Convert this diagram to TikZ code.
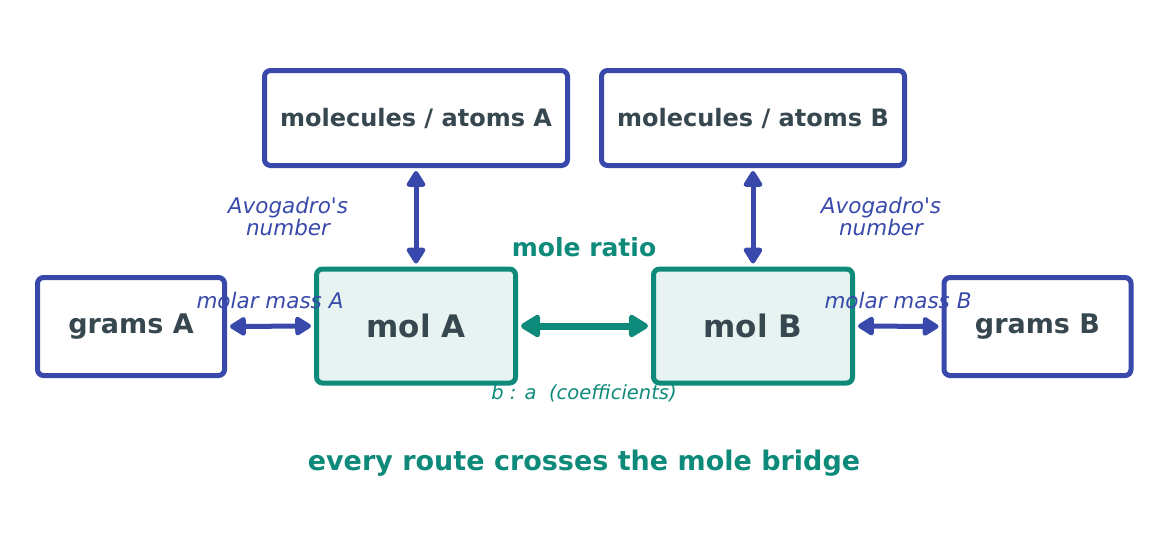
\documentclass[tikz,border=0pt]{standalone}
\usepackage{fontspec}
\setmainfont{DejaVu Sans}
\usetikzlibrary{arrows.meta}
\definecolor{indigo}{HTML}{3949AB}
\definecolor{bridgeteal}{HTML}{0E8A7A}
\definecolor{slate}{HTML}{37474F}
\definecolor{molfill}{HTML}{E7F3F1}
\begin{document}
\begin{tikzpicture}[x=1pt,y=-1pt,
    unitbox/.style={draw=indigo,line width=5pt,rounded corners=6pt,fill=white,inner sep=0pt,text=slate},
    molbox/.style={draw=bridgeteal,line width=5pt,rounded corners=6pt,fill=molfill,inner sep=0pt,text=slate,
        minimum width=199pt,minimum height=114pt,font=\fontsize{31}{36}\selectfont\bfseries},
    convarrow/.style={{Triangle[round,length=18pt,width=21pt]}-{Triangle[round,length=18pt,width=21pt]},
        draw=indigo,line width=5pt,shorten <=3pt,shorten >=3pt},
    ratioarrow/.style={{Triangle[round,length=22pt,width=25pt]}-{Triangle[round,length=22pt,width=25pt]},
        draw=bridgeteal,line width=7pt,shorten <=3pt,shorten >=3pt},
    convlabel/.style={text=indigo,font=\fontsize{21.5}{22}\selectfont\itshape,align=center}]
    \useasboundingbox (0,0) rectangle (1169,538);
    \node[unitbox,minimum width=303pt,minimum height=95pt,font=\fontsize{24}{28}\selectfont\bfseries] (partA) at (416,118) {molecules / atoms A};
    \node[unitbox,minimum width=303pt,minimum height=95pt,font=\fontsize{24}{28}\selectfont\bfseries] (partB) at (753,118) {molecules / atoms B};
    \node[unitbox,minimum width=187pt,minimum height=98pt,font=\fontsize{27}{32}\selectfont\bfseries] (gramsA) at (131,326.5) {grams A};
    \node[unitbox,minimum width=187pt,minimum height=98pt,font=\fontsize{27}{32}\selectfont\bfseries] (gramsB) at (1037.5,326.5) {grams B};
    \node[molbox] (molA) at (416,326) {mol A};
    \node[molbox] (molB) at (753,326) {mol B};
    \draw[convarrow] (partA.south) -- (molA.north);
    \draw[convarrow] (partB.south) -- (molB.north);
    \draw[convarrow] (gramsA.east) -- (molA.west);
    \draw[convarrow] (molB.east) -- (gramsB.west);
    \draw[ratioarrow] (molA.east) -- (molB.west);
    \node[convlabel] (avoA) at (288,216) {Avogadro\textquotesingle s\\number};
    \node[convlabel] (avoB) at (881,216) {Avogadro\textquotesingle s\\number};
    \node[convlabel] (massA) at (270,300) {molar mass A};
    \node[convlabel] (massB) at (898,300) {molar mass B};
    \node[text=bridgeteal,font=\fontsize{25}{30}\selectfont\bfseries] (ratio) at (584,247) {mole ratio};
    \node[text=bridgeteal,font=\fontsize{19.5}{24}\selectfont\itshape] (coeff) at (584,393) {b : a \ (coefficients)};
    \node[text=bridgeteal,font=\fontsize{27}{32}\selectfont\bfseries] (motto) at (584,463) {every route crosses the mole bridge};
\end{tikzpicture}
\end{document}
